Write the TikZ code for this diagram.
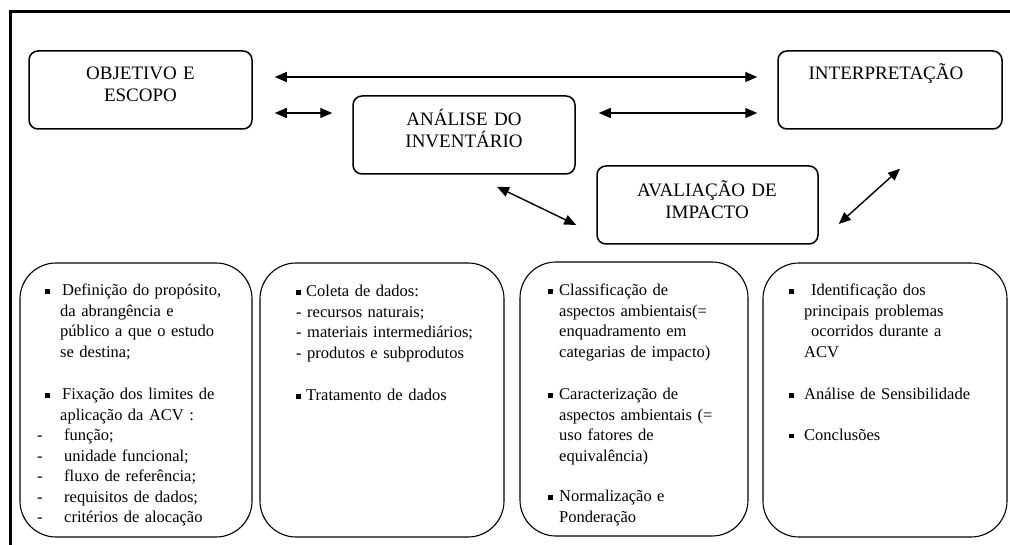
\documentclass[tikz,border=0pt]{standalone}
\usepackage{fontspec}
\setmainfont{Liberation Serif}
\usetikzlibrary{arrows.meta}
\newcommand\blt{\rule[2pt]{4.5pt}{4.5pt}}
\begin{document}
\begin{tikzpicture}[x=1pt, y=-1pt,
  topbox/.style={draw, line width=1.5pt, rounded corners=9pt, minimum height=78pt},
  bigbox/.style={draw, line width=1.1pt, rounded corners=36pt, minimum height=274pt},
  toptxt/.style={anchor=base, inner sep=0pt, text width=220pt, align=center, font=\fontsize{19}{22}\selectfont},
  listtxt/.style={anchor=base west, inner sep=0pt, text width=225pt, align=left, font=\fontsize{16.5}{20.5}\selectfont},
  dbl/.style={{Triangle[length=12pt,width=10pt]}-{Triangle[length=12pt,width=10pt]}, line width=1.4pt}]
\useasboundingbox (0,0) rectangle (1010,545);
\draw [line width=3pt] (10,545) -- (10,11.3) -- (1010,11.3);
% upper phases
\node [topbox, minimum width=223pt] (obj) at (140.5,90) {};
\node [toptxt] (objtxt) at (140.5,80) {OBJETIVO E\\ESCOPO};
\node [topbox, minimum width=222pt] (ana) at (464,135) {};
\node [toptxt] (anatxt) at (464,126) {ANÁLISE DO\\INVENTÁRIO};
\node [topbox, minimum width=224pt] (interp) at (890,90) {};
\node [toptxt] (interptxt) at (886,80) {INTERPRETAÇÃO};
\node [topbox, minimum width=221pt] (ava) at (707.5,205) {};
\node [toptxt] (avatxt) at (707,197) {AVALIAÇÃO DE\\IMPACTO};
\draw [dbl, shorten <=22pt, shorten >=20pt] ([yshift=13pt]obj.east) -- ([yshift=13pt]interp.west);
\draw [dbl, shorten <=22pt, shorten >=20pt] ([yshift=-23pt]obj.east) -- ([yshift=22pt]ana.west);
\draw [dbl, shorten <=23pt, shorten >=20pt] ([yshift=22pt]ana.east) -- ([yshift=-23pt]interp.west);
\draw [dbl] ([xshift=33pt, yshift=-12pt]ana.south) -- ([xshift=-20pt, yshift=-20pt]ava.west);
\draw [dbl] ([xshift=10pt, yshift=-39pt]interp.south) -- ([xshift=20pt, yshift=-19pt]ava.east);
% lower boxes
\node [bigbox, minimum width=232pt] (objbox) at (136,400) {};
\node [bigbox, minimum width=244pt] (anabox) at (382,400) {};
\node [bigbox, minimum width=228pt] (avabox) at (634,399) {};
\node [bigbox, minimum width=244pt] (interpbox) at (885,400) {};
\node [listtxt] (objlist) at (37,296) {%
\hspace*{8pt}\blt\hspace{12.5pt}Definição do propósito,\\
\hspace*{23pt}da abrangência e\\
\hspace*{23pt}público a que o estudo\\
\hspace*{23pt}se destina;\\[22pt]
\hspace*{8pt}\blt\hspace{12.5pt}Fixação dos limites de\\
\hspace*{23pt}aplicação da ACV :\\
\makebox[27pt][l]{-}função;\\
\makebox[27pt][l]{-}unidade funcional;\\
\makebox[27pt][l]{-}fluxo de referência;\\
\makebox[27pt][l]{-}requisitos de dados;\\
\makebox[27pt][l]{-}critérios de alocação};
\node [listtxt] (analist) at (296,297) {%
\blt\hspace{5.5pt}Coleta de dados:\\
- recursos naturais;\\
- materiais intermediários;\\
- produtos e subprodutos\\[22pt]
\blt\hspace{5.5pt}Tratamento de dados};
\node [listtxt] (avalist) at (548,296) {%
\blt\hspace{6.5pt}Classificação de\\
\hspace*{11pt}aspectos ambientais(=\\
\hspace*{11pt}enquadramento em\\
\hspace*{11pt}categarias de impacto)\\[22pt]
\blt\hspace{6.5pt}Caracterização de\\
\hspace*{11pt}aspectos ambientais (=\\
\hspace*{11pt}uso fatores de\\
\hspace*{11pt}equivalência)\\[20pt]
\blt\hspace{6.5pt}Normalização e\\
\hspace*{11pt}Ponderação};
\node [listtxt] (interplist) at (789,296) {%
\blt\hspace{17.5pt}Identificação dos\\
\hspace*{15pt}principais problemas\\
\hspace*{22pt}ocorridos durante a\\
\hspace*{15pt}ACV\\[22pt]
\blt\hspace{10.5pt}Análise de Sensibilidade\\[20pt]
\blt\hspace{10.5pt}Conclusões};
\end{tikzpicture}
\end{document}
